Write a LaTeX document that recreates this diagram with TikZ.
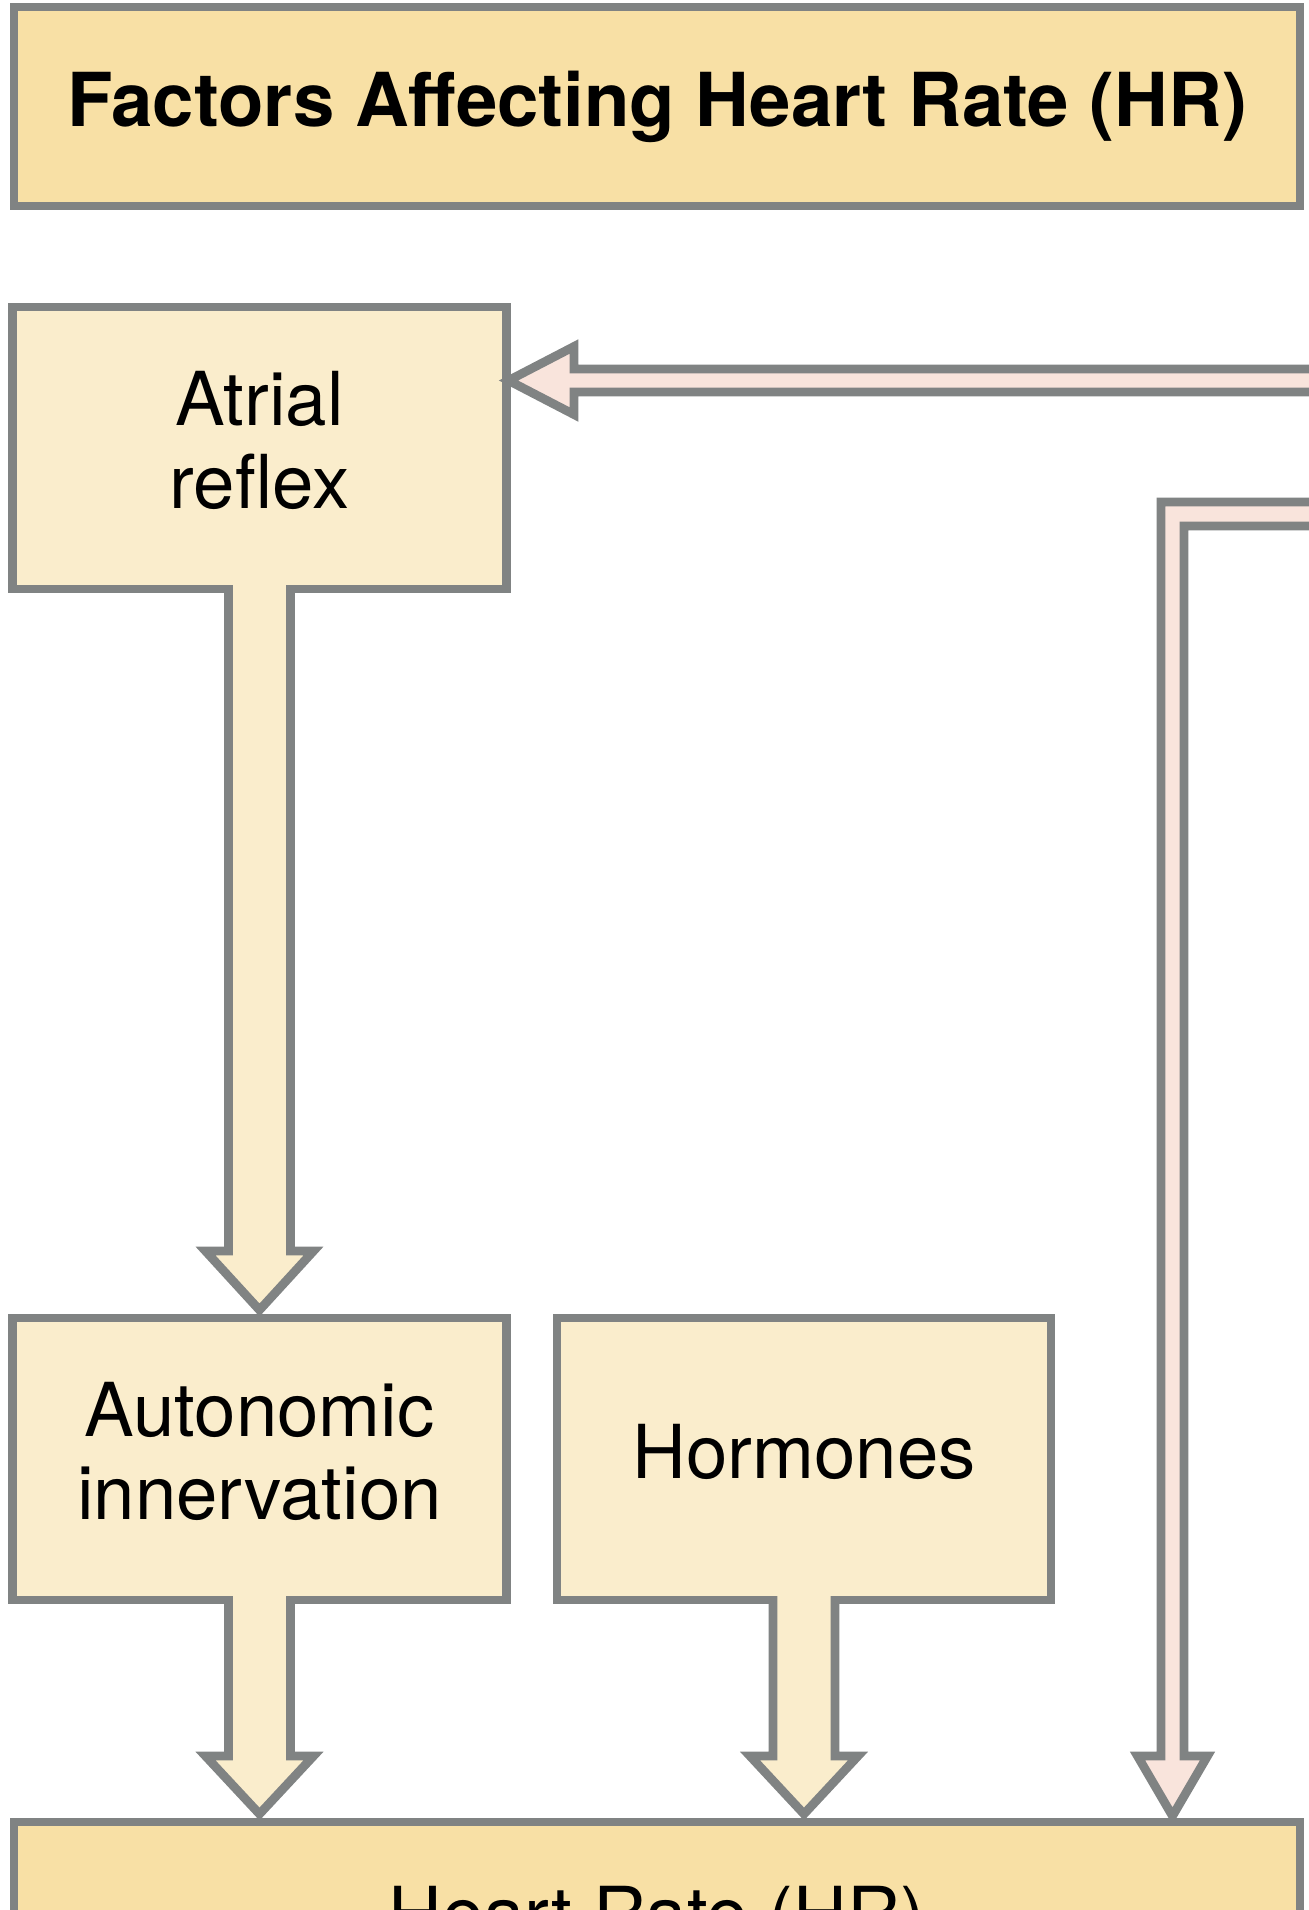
\documentclass[tikz,border=0pt]{standalone}
\usepackage{fontspec}
\setmainfont{TeX Gyre Heros}
\usepackage{tikz}
\usepackage{xcolor}
\usetikzlibrary{calc}

\definecolor{boxgray}{HTML}{808383}
\definecolor{titlefill}{HTML}{F8E0A5}
\definecolor{boxfill}{HTML}{FAEDCC}
\definecolor{pinkfill}{HTML}{F9E4DC}

\begin{document}
\begin{tikzpicture}[
  x=0.25pt, y=-0.25pt,
  hdr/.style={rectangle, draw=boxgray, fill=titlefill, line width=2.2pt, outer sep=0pt, minimum width=1286*0.25pt, minimum height=199*0.25pt, font=\bfseries\fontsize{18.6}{20.6}\selectfont},
  fac/.style={rectangle, draw=boxgray, fill=boxfill, line width=2.2pt, outer sep=0pt, minimum width=494*0.25pt, minimum height=282*0.25pt, align=center, text depth=4pt, font=\fontsize{18.6}{20.6}\selectfont},
  blk/.style={draw=boxgray, line width=2.2pt, line join=miter}
]
\clip (0,0) rectangle (1309,1910);
\node[hdr] (title) at (657,106.5) {Factors Affecting Heart Rate (HR)};
\node[fac] (atrial) at (259.5,448) {Atrial\\reflex};
\node[fac] (auto) at (259.5,1459) {Autonomic\\innervation};
\node[fac] (horm) at (804,1459) {Hormones};
\node[hdr, font=\fontsize{18.6}{20.6}\selectfont] (hr) at (657,1921.5) {Heart Rate (HR)};
\coordinate (autoin) at (auto.south |- hr.north);
\coordinate (hormin) at (horm.south |- hr.north);
\coordinate (fbtop) at (1330,380.5);
\coordinate (fbin) at (atrial.east |- fbtop);
\coordinate (fbside) at (1330,514);
\coordinate (fbturn) at (1172.5,514);
\coordinate (fbhr) at (fbturn |- hr.north);
% block arrows
\filldraw[blk, fill=boxfill] ($(atrial.south)+(-31,-4)$) -- ($(auto.north)+(-31,-67)$) -- ($(auto.north)+(-54,-67)$)
  -- ($(auto.north)+(0,-8)$) -- ($(auto.north)+(54,-67)$) -- ($(auto.north)+(31,-67)$) -- ($(atrial.south)+(31,-4)$);
\filldraw[blk, fill=boxfill] ($(auto.south)+(-31,-4)$) -- ($(autoin)+(-31,-66)$) -- ($(autoin)+(-54,-66)$)
  -- ($(autoin)+(0,-8)$) -- ($(autoin)+(54,-66)$) -- ($(autoin)+(31,-66)$) -- ($(auto.south)+(31,-4)$);
\filldraw[blk, fill=boxfill] ($(horm.south)+(-31,-4)$) -- ($(hormin)+(-31,-66)$) -- ($(hormin)+(-54,-66)$)
  -- ($(hormin)+(0,-8)$) -- ($(hormin)+(54,-66)$) -- ($(hormin)+(31,-66)$) -- ($(horm.south)+(31,-4)$);
% feedback arrows
\filldraw[blk, fill=pinkfill] ($(fbtop)+(0,-11.5)$) -- ($(fbin)+(67.5,-11.5)$) -- ($(fbin)+(67.5,-34)$)
  -- ($(fbin)+(2,0)$) -- ($(fbin)+(67.5,34)$) -- ($(fbin)+(67.5,11.5)$) -- ($(fbtop)+(0,11.5)$);
\filldraw[blk, fill=pinkfill] ($(fbside)+(0,-12)$) -- ($(fbturn)+(-11.5,-12)$) -- ($(fbhr)+(-11.5,-66)$) -- ($(fbhr)+(-35,-66)$)
  -- ($(fbhr)+(0,-6)$) -- ($(fbhr)+(35,-66)$) -- ($(fbhr)+(11.5,-66)$) -- ($(fbturn)+(11.5,12)$) -- ($(fbside)+(0,12)$);
\end{tikzpicture}
\end{document}
